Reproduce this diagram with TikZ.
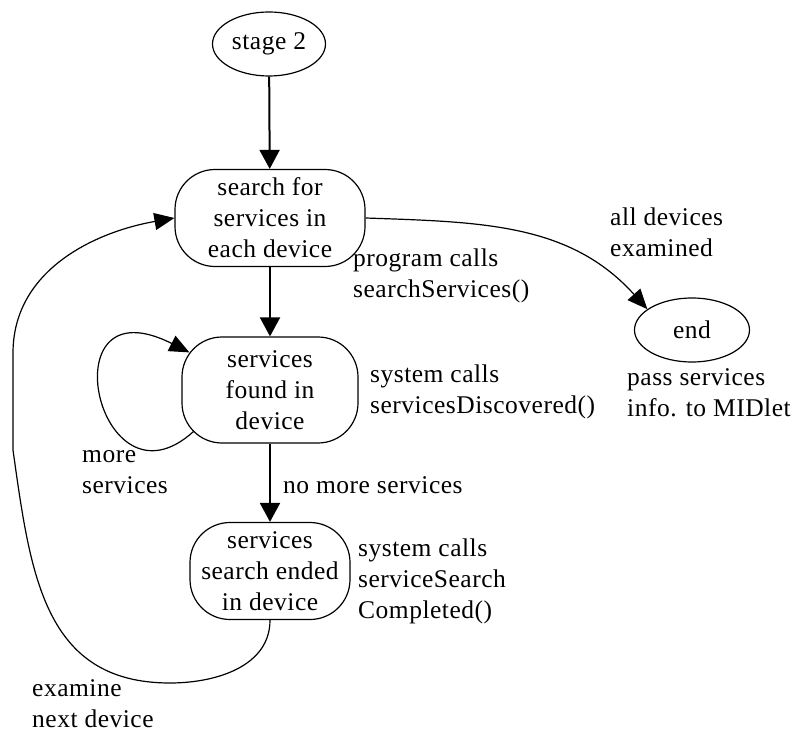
\documentclass[tikz,border=0pt]{standalone}
\usepackage{fontspec}
\setmainfont[LetterSpace=2]{Liberation Serif}
\usepackage{tikz}
\usetikzlibrary{positioning, arrows.meta, calc, shapes.geometric}
\tikzset{
  fsm oval/.style={
    ellipse,
    draw,
    line width=1.2pt,
    minimum width=113pt,
    minimum height=64pt,
    inner sep=0pt
  },
  fsm state/.style={
    rectangle,
    draw,
    line width=1.2pt,
    rounded corners=40pt,
    align=center,
    inner sep=0pt
  },
  fsm arrow/.style={
    -{Triangle[length=19pt,width=20pt]},
    line width=2pt
  },
  fsm curve/.style={
    -{Triangle[length=20pt,width=17pt]},
    line width=1.2pt
  },
  note/.style={align=left, inner sep=0pt, anchor=west}
}

\begin{document}
\begin{tikzpicture}[x=1pt, y=1pt, font=\fontsize{25.5}{31}\selectfont]
  \useasboundingbox (0,0) rectangle (792,-735);

  % States
  \node[fsm oval] (stage) at (269,-44) {stage 2};
  \node[fsm state, minimum width=190pt, minimum height=97pt] (search) at (270,-218) {search for\\services in\\each device};
  \node[fsm state, minimum width=176pt, minimum height=106pt] (found) at (270,-390) {services\\found in\\device};
  \node[fsm state, minimum width=160pt, minimum height=97pt] (ended) at (270,-571) {services\\search ended\\in device};
  \node[fsm oval, minimum width=115pt] (end) at (692,-330) {end};

  % Labels
  \node[note] (allnote) at (610,-232) {all devices\\examined};
  \node[note] (prognote) at (353,-276) {program calls\\searchServices()};
  \node[note] (discnote) at (370,-392) {system calls\\servicesDiscovered()};
  \node[note] (morenote) at (82,-472) {more\\services};
  \node[note] (nomorenote) at (283,-485) {no more services};
  \node[note] (complnote) at (358,-581) {system calls\\serviceSearch\\Completed()};
  \node[note] (nextnote) at (32,-704) {examine\\next device};
  \node[note] (passnote) at (627,-393) {pass services\\info. to MIDlet};

  % Straight transitions
  \draw[fsm arrow] (stage) -- (search);
  \draw[fsm arrow] (search) -- (found);
  \draw[fsm arrow] (found) -- (ended);

  % Self loop on found
  \coordinate (loopout) at ([shift={(12,12)}]found.south west);
  \coordinate (loopin) at ([shift={(8,-16)}]found.north west);
  \draw[fsm curve] (loopout) .. controls (98,-518) and (46,-280) .. (loopin);

  % Back to search
  \coordinate (bendlow) at (170,-683);
  \coordinate (bendleft) at (13,-450);
  \coordinate (bendup) at (13,-353);
  \draw[fsm curve] (ended.south) to[out=-90, in=0] (bendlow)
    to[out=180, in=-82, looseness=1.15] (bendleft) -- (bendup)
    to[out=90, in=190] (search.west);

  % To end
  \draw[fsm curve] (search.east) to[out=-2, in=132] (end.155);
\end{tikzpicture}
\end{document}
